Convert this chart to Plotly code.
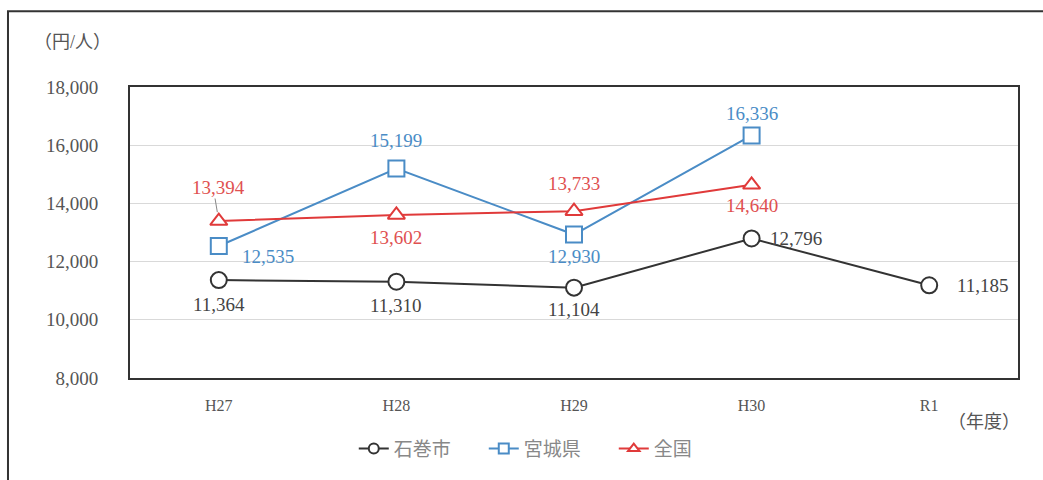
import plotly.graph_objects as go

years = ["H27", "H28", "H29", "H30", "R1"]
ishinomaki = [11364, 11310, 11104, 12796, 11185]
miyagi = [12535, 15199, 12930, 16336, None]
national = [13394, 13602, 13733, 14640, None]

# label offsets (px) relative to each marker
ishinomaki_off = [(0, -24), (0, -24), (0, -22), (44, 0), (54, 0)]
miyagi_off = [(49, -10), (0, 28), (0, -22), (0, 22), None]
national_off = [(0, 34), (0, -23), (0, 28), (0, -21), None]

FONT = "Liberation Serif, Noto Sans CJK JP, serif"
BLACK = "#333333"
BLUE = "#4a8cc6"
RED = "#e03a3a"

fig = go.Figure()

series = [
    ("石巻市", ishinomaki, ishinomaki_off, BLACK, "#444444", "circle", 16),
    ("宮城県", miyagi, miyagi_off, BLUE, BLUE, "square", 16),
    ("全国", national, national_off, RED, "#e05050", "triangle-up", 15),
]

annotations = []
for name, vals, offs, col, tcol, sym, size in series:
    # plotted series
    fig.add_trace(go.Scatter(
        x=years, y=vals, name=name, mode="lines+markers", showlegend=False,
        line=dict(color=col, width=2),
        marker=dict(symbol=sym, size=size, color="white", line=dict(color=col, width=2)),
    ))
    # legend entry with small marker
    fig.add_trace(go.Scatter(
        x=[years[0]], y=[None], name=name, mode="lines+markers",
        line=dict(color=col, width=2),
        marker=dict(symbol=sym, size=10, color="white", line=dict(color=col, width=2)),
    ))
    for x, v, off in zip(years, vals, offs):
        if v is None or off is None:
            continue
        annotations.append(dict(
            x=x, y=v, xref="x", yref="y", text=f"{v:,}", showarrow=False,
            xshift=off[0], yshift=off[1], xanchor="center", yanchor="middle",
            font=dict(family=FONT, size=19, color=tcol),
        ))

# short leader line for the first national value
annotations.append(dict(
    x=years[0], y=national[0], xref="x", yref="y", text="", showarrow=True,
    arrowhead=0, arrowwidth=1, arrowcolor="#888888", ax=-4, ay=-24, standoff=9,
))

annotations += [
    dict(text="（円/人）", xref="paper", yref="paper", x=-0.11, y=1.155,
         xanchor="left", yanchor="middle", showarrow=False,
         font=dict(family=FONT, size=18, color="#555555")),
    dict(text="（年度）", xref="paper", yref="paper", x=1.004, y=-0.15,
         xanchor="right", yanchor="middle", showarrow=False,
         font=dict(family=FONT, size=18, color="#555555")),
]

fig.update_layout(
    width=1043, height=480,
    margin=dict(l=130, r=25, t=87, b=97),
    paper_bgcolor="white", plot_bgcolor="white",
    font=dict(family=FONT, size=16, color="#555555"),
    separators=".,",
    showlegend=True,
    legend=dict(
        orientation="h", x=0.252, xanchor="left", y=-0.243, yanchor="middle",
        font=dict(family=FONT, size=19, color="#888888"),
        entrywidth=85, entrywidthmode="pixels",
        traceorder="normal",
    ),
    xaxis=dict(
        type="category", range=[-0.5, 4.5],
        showline=True, linecolor=BLACK, linewidth=2, mirror=True,
        showgrid=False, ticks="", tickfont=dict(size=16, color="#555555"),
        ticklabelstandoff=12,
    ),
    yaxis=dict(
        range=[8000, 18000], dtick=2000, tickformat=",d",
        showline=True, linecolor=BLACK, linewidth=2, mirror=True,
        showgrid=True, gridcolor="#d9d9d9", gridwidth=1,
        ticks="", tickfont=dict(size=19, color="#555555"),
        ticklabelstandoff=26, zeroline=False,
    ),
    shapes=[dict(
        type="rect", xref="paper", yref="paper",
        x0=-0.1374, x1=1.2, y0=-0.5, y1=1.26,
        line=dict(color=BLACK, width=2), fillcolor="rgba(0,0,0,0)", layer="below",
    )],
    annotations=annotations,
)

fig.write_html("out.html")
